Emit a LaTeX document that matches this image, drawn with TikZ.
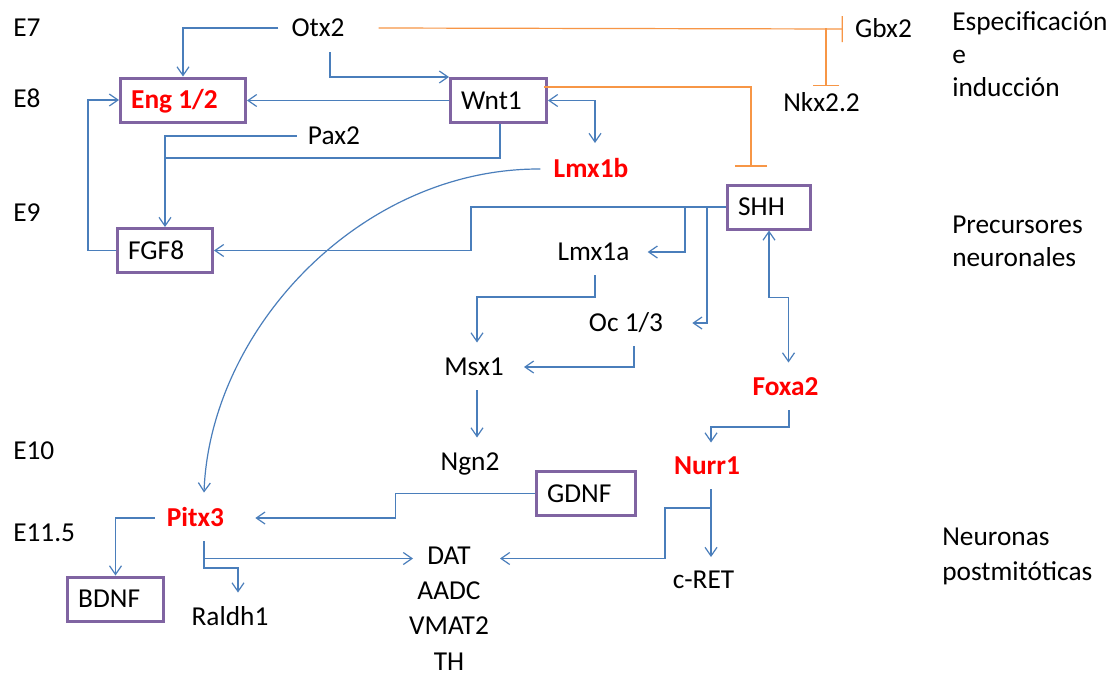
\documentclass[tikz,border=0pt]{standalone}
\usepackage{fontspec}
\setmainfont{Carlito}
\usetikzlibrary{arrows.meta,calc}

\definecolor{lineblue}{HTML}{4A7EBB}
\definecolor{lineorange}{HTML}{F79646}
\definecolor{boxpurple}{HTML}{8064A2}
\definecolor{keyred}{HTML}{FF0000}

\newcommand{\diagfont}{\fontsize{20.5}{24.75}\selectfont}
% left-aligned label of fixed width inside a framed box
\newcommand{\lft}[2]{\makebox[#1][l]{#2}}

\tikzset{
  >={Straight Barb[length=6.5pt,width=9pt]},
  conn/.style={draw=lineblue, line width=0.9pt},
  inh/.style={draw=lineorange, line width=0.9pt},
  gene/.style={inner sep=0pt, text height=13.1pt, text depth=0pt, font=\diagfont},
  key/.style={gene, text=keyred, font=\diagfont\bfseries},
  gbox/.style={draw=boxpurple, line width=2.25pt, inner xsep=8pt, inner ysep=0pt,
               minimum height=33pt, text height=13.1pt, text depth=0pt,
               font=\diagfont},
  stack/.style={inner sep=0pt, align=center, anchor=base, font=\diagfont},
  stage/.style={inner sep=0pt, align=left, anchor=base west, font=\diagfont}
}

\begin{document}
\begin{tikzpicture}[x=0.75pt,y=-0.75pt]
\fill[white] (0,0) rectangle (1119,672);
\useasboundingbox (0,0) rectangle (1119,672);

% framed factors
\node[gbox, text=keyred, font=\diagfont\bfseries] (eng) at (183,100) {\lft{77.75pt}{Eng 1/2}};
\node[gbox] (wnt)  at (498.5,100.5) {\lft{56pt}{Wnt1}};
\node[gbox] (shh)  at (769,207)     {\lft{46.25pt}{SHH}};
\node[gbox] (fgf)  at (165,250.5)   {\lft{55.25pt}{FGF8}};
\node[gbox] (bdnf) at (115.5,599)   {\lft{56pt}{BDNF}};
\node[gbox] (gdnf) at (586,493.5)   {\lft{58.25pt}{GDNF}};

% genes
\node[gene] (otx)   at (318,28)    {Otx2};
\node[gene] (pax)   at (334,136)   {Pax2};
\node[key]  (lmxb)  at (591,169)   {Lmx1b};
\node[gene] (gbx)   at (883.5,29)  {Gbx2};
\node[gene] (nkx)   at (821.5,103) {Nkx2.2};
\node[gene] (lmxa)  at (593.5,252) {Lmx1a};
\node[gene] (oc)    at (626,323)   {Oc 1/3};
\node[gene] (msx)   at (474,367)   {Msx1};
\node[key]  (foxa)  at (785.5,387) {Foxa2};
\node[gene] (ngn)   at (470,462)   {Ngn2};
\node[key]  (nurr)  at (707,466)   {Nurr1};
\node[key]  (pitx)  at (195.5,518) {Pitx3};
\node[gene] (cret)  at (703.5,580) {c-RET};
\node[gene] (raldh) at (230,617)   {Raldh1};
% base of a multi-line node is the baseline of its last line (TH)
\node[stack] (dat)  at (449,670) {DAT\\[1.6pt]AADC\\[1.6pt]VMAT2\\[1.6pt]TH};

% embryonic days
\node[gene, anchor=west] (e7)  at (13,28)  {E7};
\node[gene, anchor=west] (e8)  at (13,99)  {E8};
\node[gene, anchor=west] (e9)  at (13,213) {E9};
\node[gene, anchor=west] (e10) at (13,451) {E10};
\node[gene, anchor=west] (e11) at (13,533) {E11.5};

% stages
\node[stage] (spec) at (952,96.5)  {Especificación\\e\\inducción};
\node[stage] (prec) at (952,266.5) {Precursores\\neuronales};
\node[stage] (neur) at (942,580.5) {Neuronas\\[1.6pt]postmitóticas};

% Otx2 / Wnt1 / Pax2 / FGF8 loop
\draw[conn,->] ($(otx.west)+(-13,0)$) -| (eng.north);
\draw[conn,->] ($(otx.south)+(12,15)$) |- (wnt.north west);
\draw[conn,->] (wnt.west) -- (wnt.west -| eng.east);
\draw[conn,->] (fgf.west) -- ++(-28,0) |- (eng.west);
\draw[conn,->] ($(pax.west)+(-11,0)$) -| (fgf.north);
\coordinate (wntdrop) at ($(wnt.south)+(1.5,34)$);
\draw[conn] (wnt.south -| wntdrop) -- (wntdrop) -- (wntdrop -| fgf.north);
\draw[conn,<->] (wnt.east) -| ($(lmxb.north)+(4,-17)$);
\draw[conn,->] ($(lmxb.west)+(-13,0)$) .. controls (360,168) and (210,330) .. ($(pitx.north)+(8.5,-16.5)$);

% repression
\draw[inh,-{Bar[width=19.5pt]}] ($(otx.east)+(34,0)$) -- ($(gbx.west)+(-12,0)$);
\coordinate (nkxbar) at ($(nkx.north)+(4.5,-8)$);
\draw[inh,-{Bar[width=20pt]}] (nkxbar |- otx.east) -- (nkxbar);
\draw[inh,-{Bar[width=24pt]}] ($(wnt.east)+(-4,-13.5)$) -| ($(shh.north)+(-18,-17)$);

% SHH targets
\draw[conn,->] (shh.west) -| ($(fgf.east)+(257,0)$) -- (fgf.east);
\draw[conn,->] ($(shh.west)+(-41,0)$) |- ($(lmxa.east)+(18,0)$);
\draw[conn,->] ($(shh.west)+(-19,0)$) |- ($(oc.east)+(29,0)$);
\draw[conn,->] ($(lmxa.south)+(1.5,14)$) -- ++(0,22) -| ($(msx.north)+(3,-15.5)$);
\draw[conn,->] ($(oc.south)+(8,14)$) |- ($(msx.east)+(20,0)$);
\draw[conn,->] ($(msx.south)+(3,14)$) -- ($(ngn.north)+(7,-15.5)$);
\draw[conn,<->] (shh.south) -- ++(0,67) -| ($(foxa.north)+(3,-15.5)$);
\draw[conn,->] ($(foxa.south)+(3.5,14)$) -- ++(0,17) -| ($(nurr.north)+(4,-14.5)$);

% postmitotic markers
\draw[conn,->] ($(nurr.south)+(4,14)$) -- ($(cret.north)+(7.5,-14)$);
\draw[conn,->] ($(nurr.south)+(4,33)$) -| ($(dat.base)+(216,-111.5)$) -- ($(dat.base)+(51,-111.5)$);
\draw[conn,->] (gdnf.west) -| ($(pitx.east)+(171,0)$) -- ($(pitx.east)+(31,0)$);
\draw[conn,->] ($(pitx.west)+(-12,0)$) -| (bdnf.north);
\draw[conn,->] ($(pitx.south)+(8.5,14)$) |- ($(dat.base)+(-36,-111.5)$);
\draw[conn,->] ($(pitx.south)+(8.5,14)$) -- ++(0,27) -| ($(raldh.north)+(8,-15.5)$);
\end{tikzpicture}
\end{document}
